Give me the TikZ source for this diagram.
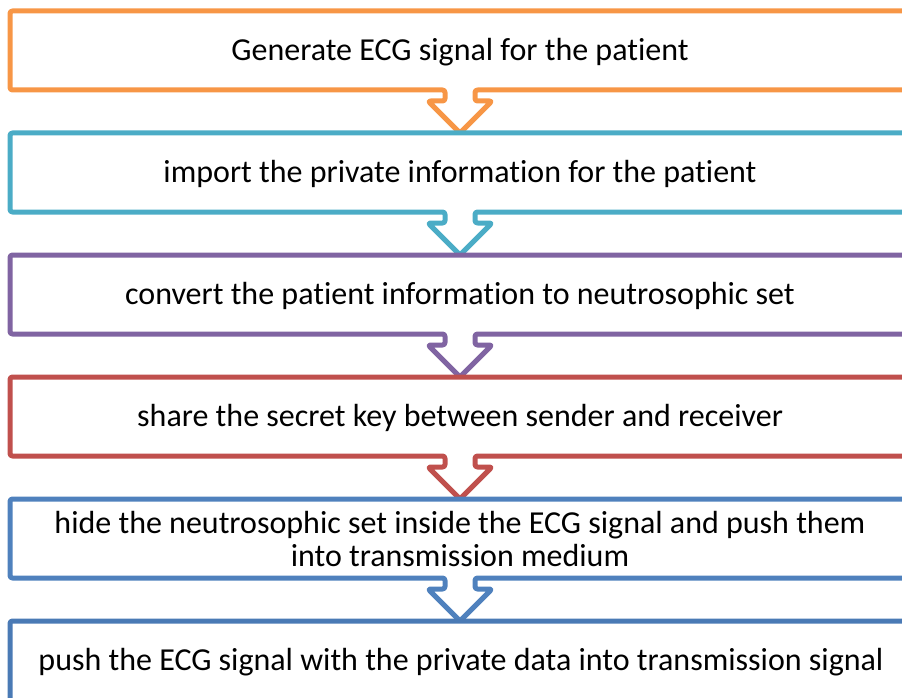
\documentclass[tikz,border=0pt]{standalone}
\usepackage{fontspec}
\setmainfont{Carlito}[RawFeature={-liga}]
\definecolor{cOrange}{HTML}{F79646}
\definecolor{cCyan}{HTML}{4BACC6}
\definecolor{cPurple}{HTML}{8064A2}
\definecolor{cRed}{HTML}{C0504D}
\definecolor{cBlue}{HTML}{4F81BD}
\definecolor{cDarkBlue}{HTML}{4A7AB5}
\begin{document}
\begin{tikzpicture}[x=1pt,y=-1pt,
  boxline/.style={line width=5pt, rounded corners=2.5pt, line join=round},
  steptext/.style={font=\fontsize{32}{33}\selectfont, align=center, text=black, inner sep=0pt}]
\useasboundingbox (0,0) rectangle (902,698);
\clip (0,0) rectangle (902,698);
\foreach \T/\c in {11/cOrange,133/cCyan,255/cPurple,377/cRed,499/cBlue}{
  \pgfmathsetmacro{\B}{\T+79}
  \draw[boxline, draw=\c] (940,\T) -- (10,\T) -- (10,\B) -- (445,\B) -- (445,\B+11)
    -- (428,\B+11) -- (460,\B+43) -- (492,\B+11) -- (475,\B+11) -- (475,\B) -- (940,\B);
}
\draw[boxline, draw=cDarkBlue] (940,621) -- (10,621) -- (10,740);
\node[steptext] (s1) at (460,52) {Generate ECG signal for the patient};
\node[steptext] (s2) at (460,174) {import the private information for the patient};
\node[steptext] (s3) at (460,296) {convert the patient information to neutrosophic set};
\node[steptext] (s4) at (460,418) {share the secret key between sender and receiver};
\node[steptext] (s5) at (460,539.5) {hide the neutrosophic set inside the ECG signal and push them\\into transmission medium};
\node[steptext] (s6) at (461,662) {push the ECG signal with the private data into transmission signal};
\end{tikzpicture}
\end{document}
